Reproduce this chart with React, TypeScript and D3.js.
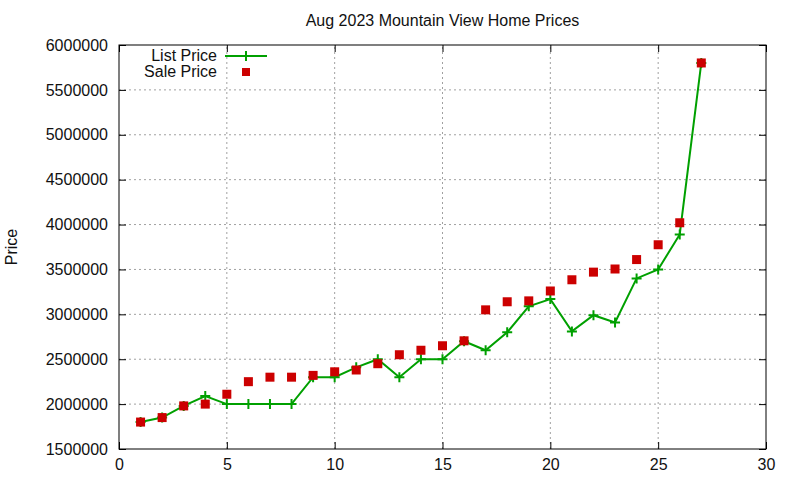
import { useEffect, useRef } from 'react';
import * as d3 from 'd3';

const houses = d3.range(1, 28);
const listPrices = [
  1800000, 1850000, 1980000, 2090000, 2000000, 2000000, 2000000, 2000000, 2300000,
  2300000, 2410000, 2500000, 2300000, 2500000, 2500000, 2700000, 2600000, 2800000,
  3090000, 3170000, 2810000, 2990000, 2910000, 3400000, 3500000, 3890000, 5800000,
];
const salePrices = [
  1800000, 1850000, 1980000, 2000000, 2110000, 2250000, 2300000, 2300000, 2320000,
  2360000, 2380000, 2450000, 2550000, 2600000, 2650000, 2705000, 3050000, 3140000,
  3150000, 3260000, 3385000, 3470000, 3505000, 3610000, 3775000, 4020000, 5800000,
];
const xTicks = [0, 5, 10, 15, 20, 25, 30];
const yTicks = d3.range(1500000, 6000001, 500000);

const W = 800;
const H = 480;
const margin = { top: 45, right: 34, bottom: 31, left: 119 };
const font = 'Liberation Sans, Arial, sans-serif';
const fontSize = 16;

export default function App() {
  const svgRef = useRef<SVGSVGElement | null>(null);

  useEffect(() => {
    if (!svgRef.current) return;
    const svg = d3.select(svgRef.current);
    svg.selectAll('*').remove();

    const x = d3.scaleLinear().domain([0, 30]).range([margin.left, W - margin.right]);
    const y = d3.scaleLinear().domain([1500000, 6000000]).range([H - margin.bottom, margin.top]);
    const [x0, x1] = x.range();
    const [y0, y1] = y.range();

    svg.append('rect').attr('width', W).attr('height', H).attr('fill', 'white');

    // grid
    const grid = svg.append('g').attr('stroke', '#a0a0a0').attr('stroke-dasharray', '2,3').attr('stroke-width', 1);
    xTicks.slice(1, -1).forEach(t => {
      grid.append('line').attr('x1', x(t)).attr('x2', x(t)).attr('y1', y0).attr('y2', y1);
    });
    yTicks.slice(1, -1).forEach(t => {
      grid.append('line').attr('x1', x0).attr('x2', x1).attr('y1', y(t)).attr('y2', y(t));
    });

    // axes (mirror ticks like gnuplot)
    const axisStyle = (g: d3.Selection<SVGGElement, unknown, null, undefined>) => {
      g.select('.domain').remove();
      g.selectAll('line').attr('stroke', 'black');
      g.selectAll('text').attr('font-family', font).attr('font-size', fontSize).attr('fill', '#111');
    };
    svg.append('g').attr('transform', `translate(0,${y0})`)
      .call(d3.axisBottom(x).tickValues(xTicks).tickSize(-7).tickPadding(10).tickSizeOuter(0))
      .call(axisStyle);
    svg.append('g').attr('transform', `translate(0,${y1})`)
      .call(d3.axisTop(x).tickValues(xTicks).tickSize(-7).tickFormat(() => '').tickSizeOuter(0))
      .call(axisStyle);
    svg.append('g').attr('transform', `translate(${x0},0)`)
      .call(d3.axisLeft(y).tickValues(yTicks).tickSize(-7).tickPadding(11).tickFormat(d3.format('d')).tickSizeOuter(0))
      .call(axisStyle);
    svg.append('g').attr('transform', `translate(${x1},0)`)
      .call(d3.axisRight(y).tickValues(yTicks).tickSize(-7).tickFormat(() => '').tickSizeOuter(0))
      .call(axisStyle);

    svg.append('rect').attr('x', x0).attr('y', y1).attr('width', x1 - x0).attr('height', y0 - y1)
      .attr('fill', 'none').attr('stroke', 'black').attr('stroke-width', 1);

    // title and y label
    svg.append('text').attr('x', (x0 + x1) / 2).attr('y', 26).attr('text-anchor', 'middle')
      .attr('font-family', font).attr('font-size', fontSize).attr('fill', '#111')
      .text('Aug 2023 Mountain View Home Prices');
    svg.append('text').attr('transform', `translate(17,${(y0 + y1) / 2}) rotate(-90)`)
      .attr('text-anchor', 'middle').attr('font-family', font).attr('font-size', fontSize)
      .attr('fill', '#111').text('Price');

    const green = '#00a000';
    const red = '#cc0000';

    // list price line
    const line = d3.line<number>().x((_, i) => x(houses[i])).y(d => y(d));
    svg.append('path').datum(listPrices).attr('d', line).attr('fill', 'none')
      .attr('stroke', green).attr('stroke-width', 2);
    const plus = (g: d3.Selection<SVGGElement, unknown, null, undefined>, cx: number, cy: number) => {
      g.append('path').attr('d', `M${cx - 5},${cy}H${cx + 5}M${cx},${cy - 5}V${cy + 5}`)
        .attr('stroke', green).attr('stroke-width', 2);
    };
    const plusG = svg.append('g');
    listPrices.forEach((d, i) => plus(plusG, x(houses[i]), y(d)));

    // sale price squares
    svg.append('g').selectAll('rect').data(salePrices).join('rect')
      .attr('x', (_, i) => x(houses[i]) - 4.5)
      .attr('y', d => y(d) - 4.5)
      .attr('width', 9).attr('height', 9).attr('fill', red);

    // legend
    const lg = svg.append('g').attr('font-family', font).attr('font-size', fontSize).attr('fill', '#111');
    lg.append('text').attr('x', 217).attr('y', 61).attr('text-anchor', 'end').text('List Price');
    lg.append('line').attr('x1', 225).attr('x2', 267).attr('y1', 56).attr('y2', 56)
      .attr('stroke', green).attr('stroke-width', 2);
    plus(lg, 246, 56);
    lg.append('text').attr('x', 217).attr('y', 77).attr('text-anchor', 'end').text('Sale Price');
    lg.append('rect').attr('x', 242).attr('y', 68).attr('width', 8).attr('height', 8).attr('fill', red);
  }, []);

  return (
    <div style={{ position: 'absolute', left: 0, top: 0 }}>
      <svg ref={svgRef} width={W} height={H} style={{ display: 'block' }} />
    </div>
  );
}
